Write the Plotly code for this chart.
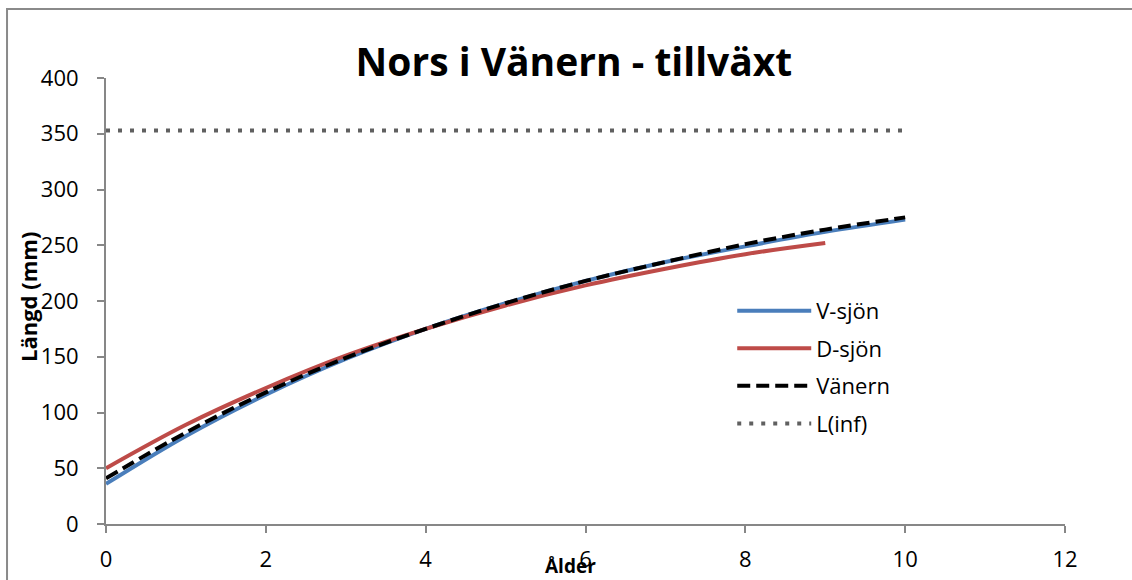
import plotly.graph_objects as go

# Data
ages_v = [0, 1, 2, 3, 4, 5, 6, 7, 8, 9, 10]
v_sjon = [36, 79, 116, 148, 175, 198, 218, 235, 249, 262, 273]

ages_d = [0, 1, 2, 3, 4, 5, 6, 7, 8, 9]
d_sjon = [50, 89, 122, 151, 175, 196, 214, 229, 242, 252]

ages_van = [0, 1, 2, 3, 4, 5, 6, 7, 8, 9, 10]
vanern = [41, 82, 118, 149, 175, 198, 218, 235, 251, 264, 275]

ages_inf = [0, 10]
l_inf = [353, 353]

x_ticks = [0, 2, 4, 6, 8, 10, 12]
y_ticks = [0, 50, 100, 150, 200, 250, 300, 350, 400]

FONT = "Open Sans"
AXIS_COLOR = "#878787"

fig = go.Figure()
fig.add_trace(go.Scatter(x=ages_v, y=v_sjon, mode="lines", name="V-sjön",
                         line=dict(color="#4A7EBB", width=4, shape="spline"),
                         legendgroup="a"))
fig.add_trace(go.Scatter(x=ages_d, y=d_sjon, mode="lines", name="D-sjön",
                         line=dict(color="#BE4B48", width=4, shape="spline"),
                         legendgroup="b"))
fig.add_trace(go.Scatter(x=ages_van, y=vanern, mode="lines", name="Vänern",
                         line=dict(color="#000000", width=4, dash="13px,6px", shape="spline"),
                         legendgroup="c"))
fig.add_trace(go.Scatter(x=ages_inf, y=l_inf, mode="lines", name="L(inf)",
                         line=dict(color="#606060", width=4, dash="4px,8px"),
                         legendgroup="d"))

fig.update_layout(
    width=1132, height=580,
    margin=dict(l=106, r=67, t=78, b=56, autoexpand=False),
    paper_bgcolor="white", plot_bgcolor="white",
    font=dict(family=FONT, size=22, color="#000000"),
    title=dict(text="<b>Nors i Vänern - tillväxt</b>", x=0.507, xanchor="center",
               y=1 - 62 / 580, yanchor="middle",
               font=dict(family=FONT, size=39, color="#000000")),
    xaxis=dict(range=[0, 12], tickvals=x_ticks, showgrid=False, zeroline=False,
               showline=True, linecolor=AXIS_COLOR, linewidth=2, automargin=False,
               ticks="outside", ticklen=7, tickwidth=2, tickcolor=AXIS_COLOR,
               ticklabelstandoff=8, tickfont=dict(size=22)),
    yaxis=dict(range=[0, 400], tickvals=y_ticks, showgrid=False, zeroline=False,
               showline=True, linecolor=AXIS_COLOR, linewidth=2, automargin=False,
               ticks="outside", ticklen=7, tickwidth=2, tickcolor=AXIS_COLOR,
               ticklabelstandoff=14, tickfont=dict(size=22)),
    legend=dict(x=0.653, y=0.525, xanchor="left", yanchor="top",
                bgcolor="rgba(0,0,0,0)", font=dict(size=22),
                tracegroupgap=6, itemwidth=74),
    showlegend=True,
    shapes=[dict(type="rect", xref="paper", yref="paper",
                 x0=-0.1032, x1=1.2, y0=-0.3, y1=1.1547,
                 line=dict(color="#8a8a8a", width=2), layer="below")],
    annotations=[
        dict(text="<b>Längd (mm)</b>", xref="paper", yref="paper",
             x=(28 - 106) / 959, y=(524 - 297) / 446, textangle=-90,
             showarrow=False, xanchor="center", yanchor="middle",
             font=dict(size=22)),
        dict(text="<b>Ålder</b>", xref="paper", yref="paper",
             x=(570 - 106) / 959, y=(524 - 566) / 446,
             showarrow=False, xanchor="center", yanchor="middle",
             font=dict(size=19)),
    ],
)

fig.write_html("out.html", config={"displayModeBar": False},
               post_script="document.body.style.margin='0px';")
